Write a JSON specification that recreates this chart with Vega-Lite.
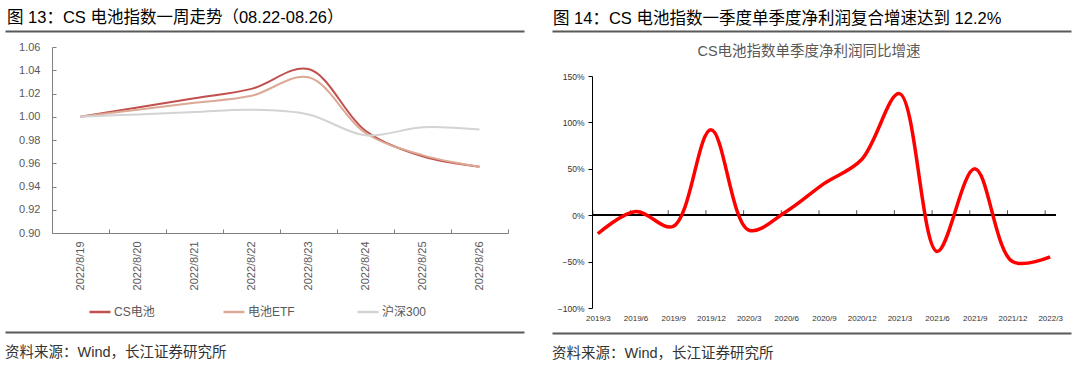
{
  "$schema": "https://vega.github.io/schema/vega-lite/v6.json",
  "background": "white",
  "padding": {"left": 5, "top": 9, "right": 0, "bottom": 0},
  "config": {
    "view": {"stroke": null},
    "font": "Liberation Sans, Noto Sans CJK SC",
    "title": {"fontWeight": "normal", "color": "#000000"}
  },
  "spacing": -19,
  "hconcat": [
    {
      "spacing": 0,
      "align": "none",
      "resolve": {"scale": {"color": "independent"}, "legend": {"color": "independent"}},
      "vconcat": [
        {
          "width": 472, "height": 10,
          "title": {"text": "图 13：CS 电池指数一周走势（08.22-08.26）", "anchor": "start", "frame": "group", "fontSize": 16.5, "offset": 4, "dx": -45},
          "data": {"values": [{"x": 0}]},
          "mark": {"type": "text", "text": ""},
          "encoding": {"x": {"field": "x", "type": "quantitative", "scale": {"domain": [0, 1], "range": [-47, 472]}, "axis": {"orient": "top", "labels": false, "ticks": false, "grid": false, "title": null, "domainColor": "#595959", "domainWidth": 2}}}
        },
        {
          "width": 456, "height": 186,
          "data": {"values": [
            {"date": "2022/8/19", "series": "CS电池", "value": 1.000},
            {"date": "2022/8/20", "series": "CS电池", "value": 1.008},
            {"date": "2022/8/21", "series": "CS电池", "value": 1.016},
            {"date": "2022/8/22", "series": "CS电池", "value": 1.024},
            {"date": "2022/8/23", "series": "CS电池", "value": 1.041},
            {"date": "2022/8/24", "series": "CS电池", "value": 0.988},
            {"date": "2022/8/25", "series": "CS电池", "value": 0.966},
            {"date": "2022/8/26", "series": "CS电池", "value": 0.957},
            {"date": "2022/8/19", "series": "电池ETF", "value": 1.000},
            {"date": "2022/8/20", "series": "电池ETF", "value": 1.006},
            {"date": "2022/8/21", "series": "电池ETF", "value": 1.012},
            {"date": "2022/8/22", "series": "电池ETF", "value": 1.018},
            {"date": "2022/8/23", "series": "电池ETF", "value": 1.034},
            {"date": "2022/8/24", "series": "电池ETF", "value": 0.986},
            {"date": "2022/8/25", "series": "电池ETF", "value": 0.967},
            {"date": "2022/8/26", "series": "电池ETF", "value": 0.957},
            {"date": "2022/8/19", "series": "沪深300", "value": 1.000},
            {"date": "2022/8/20", "series": "沪深300", "value": 1.002},
            {"date": "2022/8/21", "series": "沪深300", "value": 1.004},
            {"date": "2022/8/22", "series": "沪深300", "value": 1.006},
            {"date": "2022/8/23", "series": "沪深300", "value": 1.002},
            {"date": "2022/8/24", "series": "沪深300", "value": 0.984},
            {"date": "2022/8/25", "series": "沪深300", "value": 0.991},
            {"date": "2022/8/26", "series": "沪深300", "value": 0.989}
          ]},
          "mark": {"type": "line", "interpolate": "catmull-rom", "strokeWidth": 2},
          "encoding": {
            "x": {"field": "date", "type": "ordinal", "sort": null, "bandPosition": 0.5,
              "scale": {"type": "band", "paddingInner": 0, "paddingOuter": 0},
              "axis": {"title": null, "labelAngle": -90, "labelAlign": "right", "labelBaseline": "middle", "labelFontSize": 11, "labelColor": "#595959", "tickBand": "extent", "tickSize": -4, "labelPadding": 12, "domainColor": "#808080", "tickColor": "#808080", "grid": false}},
            "y": {"field": "value", "type": "quantitative",
              "scale": {"domain": [0.9, 1.06], "nice": false, "zero": false},
              "axis": {"title": null, "values": [0.9, 0.92, 0.94, 0.96, 0.98, 1.0, 1.02, 1.04, 1.06], "format": ".2f", "labelFontSize": 11, "labelColor": "#595959", "tickSize": -4, "labelPadding": 16, "domainColor": "#808080", "tickColor": "#808080", "grid": false, "minExtent": 47}},
            "color": {"field": "series", "type": "nominal", "sort": ["CS电池", "电池ETF", "沪深300"],
              "scale": {"domain": ["CS电池", "电池ETF", "沪深300"], "range": ["#C0504D", "#DBA995", "#D3D3D3"]},
              "legend": {"title": null, "orient": "none", "legendX": 36, "legendY": 253, "direction": "horizontal", "gridAlign": "all", "symbolType": "stroke", "symbolSize": 440, "symbolStrokeWidth": 2.5, "labelFontSize": 12, "labelColor": "#595959", "columnPadding": 57, "labelOffset": 2}}
          }
        },
        {
          "width": 472, "height": 14,
          "title": {"text": "资料来源：Wind，长江证券研究所", "orient": "bottom", "anchor": "start", "frame": "group", "fontSize": 14.5, "offset": 14, "dx": -47, "color": "#333333"},
          "data": {"values": [{"x": 0}]},
          "mark": {"type": "text", "text": ""},
          "encoding": {"x": {"field": "x", "type": "quantitative", "scale": {"domain": [0, 1], "range": [-47, 472]}, "axis": {"orient": "bottom", "labels": false, "ticks": false, "grid": false, "title": null, "domainColor": "#595959", "domainWidth": 2}}}
        }
      ]
    },
    {
      "spacing": 0,
      "align": "none",
      "vconcat": [
        {
          "width": 479, "height": 12,
          "title": {"text": "图 14：CS 电池指数一季度单季度净利润复合增速达到 12.2%", "anchor": "start", "frame": "group", "fontSize": 16.5, "offset": 4, "dx": -39},
          "data": {"values": [{"x": 0}]},
          "mark": {"type": "text", "text": ""},
          "encoding": {"x": {"field": "x", "type": "quantitative", "scale": {"domain": [0, 1], "range": [-40, 479]}, "axis": {"orient": "top", "labels": false, "ticks": false, "grid": false, "title": null, "domainColor": "#595959", "domainWidth": 2}}}
        },
        {
          "width": 464, "height": 232,
          "title": {"text": "CS电池指数单季度净利润同比增速", "anchor": "middle", "fontSize": 14.5, "color": "#595959", "offset": 13, "dx": -15},
          "data": {"values": [
            {"quarter": "2019/3", "growth": -0.20},
            {"quarter": "2019/6", "growth": 0.04},
            {"quarter": "2019/9", "growth": -0.12},
            {"quarter": "2019/12", "growth": 0.92},
            {"quarter": "2020/3", "growth": -0.16},
            {"quarter": "2020/6", "growth": 0.04},
            {"quarter": "2020/9", "growth": 0.34},
            {"quarter": "2020/12", "growth": 0.60},
            {"quarter": "2021/3", "growth": 1.31},
            {"quarter": "2021/6", "growth": -0.39},
            {"quarter": "2021/9", "growth": 0.50},
            {"quarter": "2021/12", "growth": -0.50},
            {"quarter": "2022/3", "growth": -0.45}
          ]},
          "encoding": {
            "x": {"field": "quarter", "type": "ordinal", "sort": null,
              "scale": {"type": "point", "padding": 0.155},
              "axis": {"title": null, "labelAngle": 0, "labelFontSize": 8, "labelColor": "#333333", "domain": false, "ticks": false, "labelPadding": 6, "grid": false}}
          },
          "layer": [
            {
              "mark": {"type": "rule", "color": "#000000", "strokeWidth": 1},
              "encoding": {"x": null, "y": {"datum": 0, "type": "quantitative"}}
            },
            {
              "mark": {"type": "tick", "orient": "vertical", "size": 5, "thickness": 1, "color": "#000000", "xOffset": -5, "yOffset": -2.5},
              "encoding": {"y": {"datum": 0, "type": "quantitative"}}
            },
            {
              "mark": {"type": "line", "interpolate": "catmull-rom", "color": "#FF0000", "strokeWidth": 3.5},
              "encoding": {
                "y": {"field": "growth", "type": "quantitative",
                  "scale": {"domain": [-1, 1.5], "nice": false, "zero": false},
                  "axis": {"title": null, "values": [-1, -0.5, 0, 0.5, 1, 1.5], "format": ".0%", "labelFontSize": 8.5, "labelColor": "#333333", "domainColor": "#000000", "tickColor": "#000000", "tickSize": 4, "labelPadding": 4, "grid": false, "minExtent": 40}}
              }
            }
          ]
        },
        {
          "width": 479, "height": 9,
          "title": {"text": "资料来源：Wind，长江证券研究所", "orient": "bottom", "anchor": "start", "frame": "group", "fontSize": 14.5, "offset": 13, "dx": -40, "color": "#333333"},
          "data": {"values": [{"x": 0}]},
          "mark": {"type": "text", "text": ""},
          "encoding": {"x": {"field": "x", "type": "quantitative", "scale": {"domain": [0, 1], "range": [-40, 479]}, "axis": {"orient": "bottom", "labels": false, "ticks": false, "grid": false, "title": null, "domainColor": "#595959", "domainWidth": 2}}}
        }
      ]
    }
  ]
}
